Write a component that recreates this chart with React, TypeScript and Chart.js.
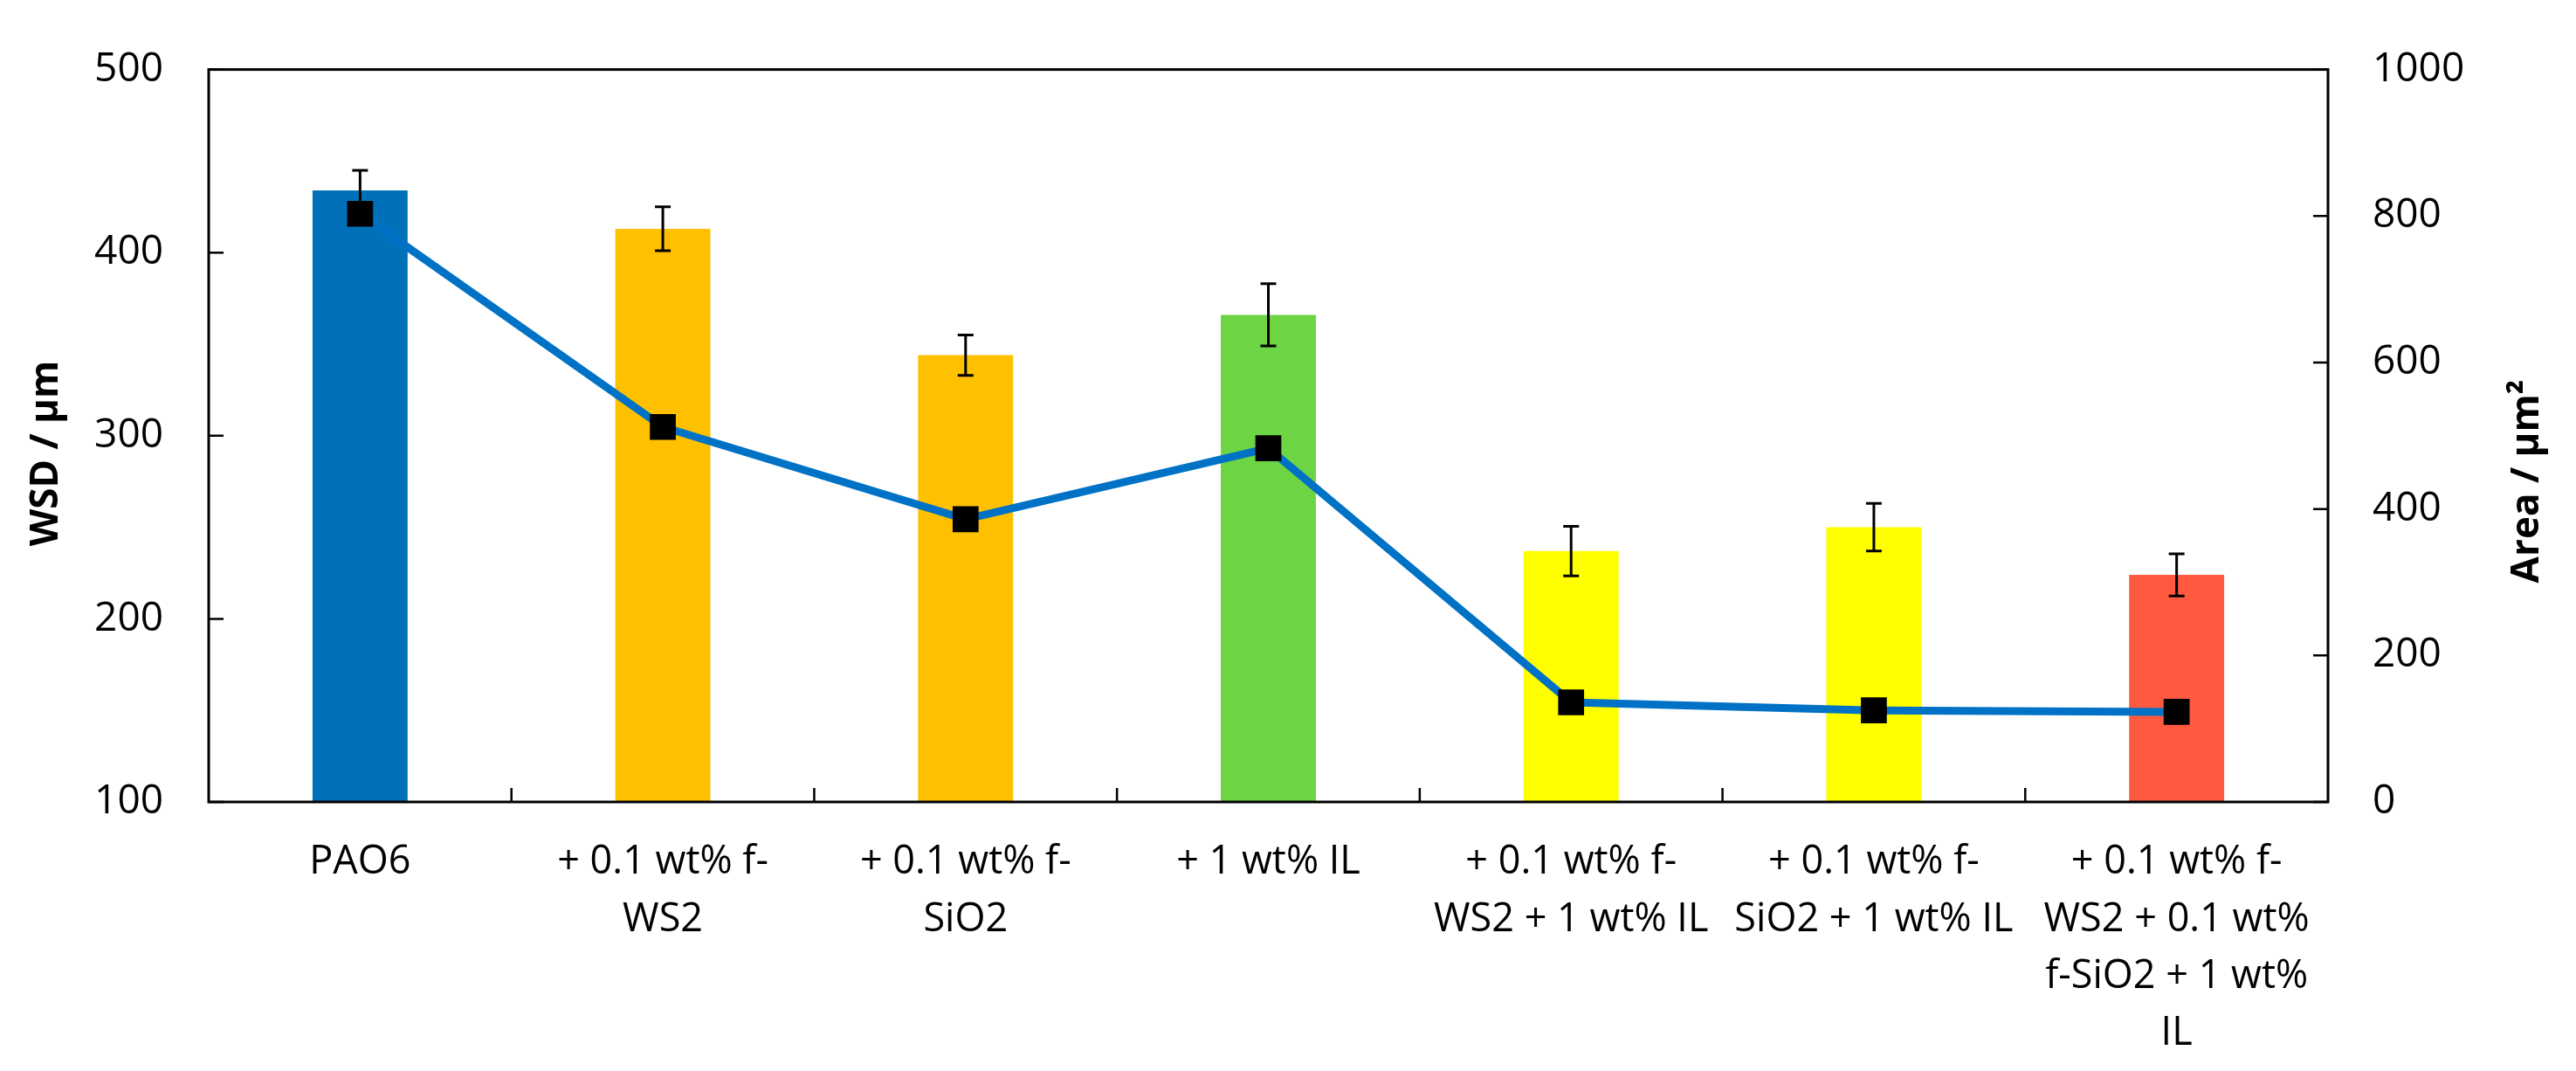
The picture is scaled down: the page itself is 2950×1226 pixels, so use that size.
import { useEffect, useRef } from 'react'
import { Chart, registerables } from 'chart.js'

Chart.register(...registerables)

const categories = [
  'PAO6',
  ['+ 0.1 wt% f-', 'WS2'],
  ['+ 0.1 wt% f-', 'SiO2'],
  '+ 1 wt% IL',
  ['+ 0.1 wt% f-', 'WS2 + 1 wt% IL'],
  ['+ 0.1 wt% f-', 'SiO2 + 1 wt% IL'],
  ['+ 0.1 wt% f-', 'WS2 + 0.1 wt%', 'f-SiO2 + 1 wt%', 'IL'],
]
const wsdValues = [434, 413, 344, 366, 237, 250, 224]
const wsdErrors = [11, 12, 11, 17, 13.5, 13, 11.5]
const areaValues = [803, 512, 386, 483, 136, 125, 123]
const barColors = ['#0071B9', '#FFC000', '#FFC000', '#6DD444', '#FFFF00', '#FFFF00', '#FF5A40']

const FONT = '"Open Sans", "DejaVu Sans", sans-serif'

// error bars on the WSD columns
const errorBars = {
  id: 'errorBars',
  afterDatasetDraw(chart: any, args: any) {
    if (args.index !== 0) return
    const { ctx } = chart
    const y = chart.scales.y
    const meta = chart.getDatasetMeta(0)
    ctx.save()
    ctx.strokeStyle = '#000'
    ctx.lineWidth = 3
    meta.data.forEach((bar: any, i: number) => {
      const x = bar.x
      const hi = y.getPixelForValue(wsdValues[i] + wsdErrors[i])
      const lo = y.getPixelForValue(wsdValues[i] - wsdErrors[i])
      ctx.beginPath()
      ctx.moveTo(x, hi)
      ctx.lineTo(x, lo)
      ctx.moveTo(x - 9, hi)
      ctx.lineTo(x + 9, hi)
      ctx.moveTo(x - 9, lo)
      ctx.lineTo(x + 9, lo)
      ctx.stroke()
    })
    ctx.restore()
  },
}

// box around plot + inward tick marks + rotated axis titles
const frame = {
  id: 'frame',
  afterDraw(chart: any) {
    const { ctx, chartArea: a, scales } = chart
    ctx.save()
    ctx.strokeStyle = '#000'
    ctx.lineWidth = 3
    ctx.strokeRect(a.left, a.top, a.right - a.left, a.bottom - a.top)
    ctx.lineWidth = 2.5
    ctx.beginPath()
    scales.y.ticks.forEach((t: any) => {
      const py = scales.y.getPixelForValue(t.value)
      ctx.moveTo(a.left, py)
      ctx.lineTo(a.left + 17, py)
    })
    scales.y1.ticks.forEach((t: any) => {
      const py = scales.y1.getPixelForValue(t.value)
      ctx.moveTo(a.right, py)
      ctx.lineTo(a.right - 17, py)
    })
    for (let i = 1; i < categories.length; i++) {
      const px = (scales.x.getPixelForValue(i - 1) + scales.x.getPixelForValue(i)) / 2
      ctx.moveTo(px, a.bottom)
      ctx.lineTo(px, a.bottom - 16)
    }
    ctx.stroke()

    ctx.fillStyle = '#000'
    ctx.font = `bold 44px ${FONT}`
    ctx.textAlign = 'center'
    ctx.textBaseline = 'middle'
    ctx.translate(53, 519)
    ctx.rotate(-Math.PI / 2)
    ctx.fillText('WSD / μm', 0, 0)
    ctx.setTransform(1, 0, 0, 1, 0, 0)
    ctx.translate(2894, 551)
    ctx.rotate(-Math.PI / 2)
    ctx.fillText('Area / μm²', 0, 0)
    ctx.restore()
  },
}

export default function App() {
  const canvasRef = useRef<HTMLCanvasElement | null>(null)
  const chartRef = useRef<Chart | null>(null)

  useEffect(() => {
    if (!canvasRef.current) return
    const ctx = canvasRef.current.getContext('2d')!

    chartRef.current = new Chart(ctx, {
      type: 'bar',
      data: {
        labels: categories as any,
        datasets: [
          {
            type: 'bar',
            label: 'WSD',
            data: wsdValues,
            backgroundColor: barColors,
            yAxisID: 'y',
            categoryPercentage: 1,
            barPercentage: 0.314,
            base: 100,
            order: 2,
          },
          {
            type: 'line',
            label: 'Area',
            data: areaValues,
            yAxisID: 'y1',
            borderColor: '#0072C6',
            borderWidth: 9,
            pointStyle: 'rect',
            pointRadius: 21,
            pointBackgroundColor: '#000',
            pointBorderWidth: 0,
            tension: 0,
            order: 1,
          } as any,
        ],
      },
      options: {
        animation: false,
        responsive: true,
        maintainAspectRatio: false,
        devicePixelRatio: 1,
        layout: { padding: { top: 57, left: 0, right: 0, bottom: 0 } },
        plugins: {
          legend: { display: false },
          tooltip: { enabled: false },
        },
        scales: {
          x: {
            grid: { display: false, drawTicks: false },
            border: { display: false },
            ticks: {
              color: '#000',
              font: { family: FONT, size: 45, lineHeight: 1.45 },
              padding: 37,
              maxRotation: 0,
              autoSkip: false,
            },
            afterFit(scale: any) {
              scale.height = 308
            },
          },
          y: {
            position: 'left',
            min: 100,
            max: 500,
            grid: { display: false, drawTicks: false },
            border: { display: false },
            ticks: {
              stepSize: 100,
              color: '#000',
              padding: 52,
              font: { family: FONT, size: 46 },
              callback: (v: any) => String(v),
            },
            afterFit(scale: any) {
              scale.width = 239
            },
          },
          y1: {
            position: 'right',
            min: 0,
            max: 1000,
            grid: { display: false, drawTicks: false },
            border: { display: false },
            ticks: {
              stepSize: 200,
              color: '#000',
              padding: 51,
              font: { family: FONT, size: 46 },
              callback: (v: any) => String(v),
            },
            afterFit(scale: any) {
              scale.width = 284
            },
          },
        },
      },
      plugins: [errorBars, frame],
    })

    return () => chartRef.current?.destroy()
  }, [])

  return (
    <div style={{ position: 'absolute', left: 0, top: 0, width: 2950, height: 1226, background: '#fff' }}>
      <canvas ref={canvasRef} />
    </div>
  )
}
